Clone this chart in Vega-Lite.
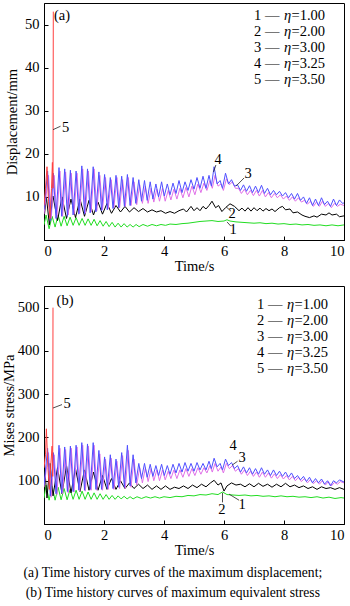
{
"$schema":"https://vega.github.io/schema/vega-lite/v6.json",
"background":"white",
"padding":{"left":0,"top":2,"right":5,"bottom":0},
"spacing":11,
"title":{"text":["(a) Time history curves of the maximum displacement;","(b) Time history curves of maximum equivalent stress"],"orient":"bottom","anchor":"middle","font":"Liberation Serif","fontSize":13.6,"fontWeight":"normal","lineHeight":20,"offset":8,"color":"#000"},
"config":{
 "view":{"stroke":"#000","strokeWidth":1},
 "axis":{"grid":false,"domainColor":"#000","tickColor":"#000","tickSize":-4,"labelFont":"Liberation Serif","labelFontSize":14.5,"labelColor":"#000","titleFont":"Liberation Serif","titleFontSize":14.5,"titleFontWeight":"normal","titleColor":"#000"},
 "line":{"strokeWidth":1}
},
"datasets":{
"a":[
{"s":"1","t":0,"v":3.5},{"s":"1","t":0.07,"v":5.8},{"s":"1","t":0.17,"v":2.6},{"s":"1","t":0.27,"v":5.5},{"s":"1","t":0.37,"v":3.0},{"s":"1","t":0.47,"v":5.8},{"s":"1","t":0.57,"v":3.2},{"s":"1","t":0.67,"v":5.5},{"s":"1","t":0.77,"v":3.3},{"s":"1","t":0.87,"v":5.3},{"s":"1","t":0.97,"v":3.4},{"s":"1","t":1.07,"v":5.2},{"s":"1","t":1.17,"v":3.4},{"s":"1","t":1.27,"v":5.0},{"s":"1","t":1.37,"v":3.4},{"s":"1","t":1.47,"v":4.9},{"s":"1","t":1.57,"v":3.4},{"s":"1","t":1.67,"v":4.8},{"s":"1","t":1.77,"v":3.3},{"s":"1","t":1.87,"v":4.5},{"s":"1","t":1.97,"v":3.2},{"s":"1","t":2.07,"v":4.3},{"s":"1","t":2.17,"v":3.1},{"s":"1","t":2.27,"v":4.1},{"s":"1","t":2.37,"v":3.0},{"s":"1","t":2.47,"v":3.9},{"s":"1","t":2.57,"v":3.0},{"s":"1","t":2.67,"v":3.8},{"s":"1","t":2.77,"v":3.0},{"s":"1","t":2.87,"v":3.6},{"s":"1","t":2.97,"v":3.0},{"s":"1","t":3.07,"v":3.6},{"s":"1","t":3.17,"v":3.1},{"s":"1","t":3.3,"v":3.6},{"s":"1","t":3.45,"v":3.2},{"s":"1","t":3.6,"v":3.6},{"s":"1","t":3.75,"v":3.3},{"s":"1","t":3.9,"v":3.6},{"s":"1","t":4.05,"v":3.4},{"s":"1","t":4.2,"v":3.7},{"s":"1","t":4.4,"v":3.6},{"s":"1","t":4.6,"v":3.8},{"s":"1","t":4.8,"v":3.9},{"s":"1","t":5.0,"v":4.1},{"s":"1","t":5.2,"v":4.3},{"s":"1","t":5.4,"v":4.4},{"s":"1","t":5.6,"v":4.5},{"s":"1","t":5.8,"v":4.3},{"s":"1","t":6.0,"v":4.4},{"s":"1","t":6.1,"v":4.7},{"s":"1","t":6.2,"v":4.4},{"s":"1","t":6.4,"v":4.2},{"s":"1","t":6.6,"v":4.1},{"s":"1","t":6.8,"v":4.0},{"s":"1","t":7.0,"v":3.9},{"s":"1","t":7.2,"v":4.0},{"s":"1","t":7.4,"v":3.8},{"s":"1","t":7.6,"v":3.9},{"s":"1","t":7.8,"v":3.7},{"s":"1","t":8.0,"v":3.8},{"s":"1","t":8.2,"v":3.6},{"s":"1","t":8.4,"v":3.7},{"s":"1","t":8.6,"v":3.5},{"s":"1","t":8.8,"v":3.6},{"s":"1","t":9.0,"v":3.4},{"s":"1","t":9.2,"v":3.5},{"s":"1","t":9.4,"v":3.3},{"s":"1","t":9.6,"v":3.5},{"s":"1","t":9.8,"v":3.3},{"s":"1","t":10.0,"v":3.5},
{"s":"2","t":0,"v":5},{"s":"2","t":0.08,"v":10.0},{"s":"2","t":0.18,"v":3.5},{"s":"2","t":0.3,"v":10.2},{"s":"2","t":0.45,"v":4.5},{"s":"2","t":0.6,"v":10.0},{"s":"2","t":0.75,"v":5.0},{"s":"2","t":0.9,"v":9.5},{"s":"2","t":1.05,"v":5.2},{"s":"2","t":1.2,"v":9.5},{"s":"2","t":1.35,"v":5.5},{"s":"2","t":1.5,"v":9.2},{"s":"2","t":1.65,"v":5.8},{"s":"2","t":1.8,"v":8.8},{"s":"2","t":1.95,"v":6.0},{"s":"2","t":2.1,"v":8.5},{"s":"2","t":2.25,"v":6.2},{"s":"2","t":2.4,"v":8.0},{"s":"2","t":2.55,"v":6.5},{"s":"2","t":2.7,"v":7.8},{"s":"2","t":2.85,"v":6.5},{"s":"2","t":3.0,"v":7.5},{"s":"2","t":3.15,"v":6.6},{"s":"2","t":3.3,"v":7.3},{"s":"2","t":3.45,"v":6.5},{"s":"2","t":3.6,"v":7.0},{"s":"2","t":3.75,"v":6.5},{"s":"2","t":3.9,"v":6.8},{"s":"2","t":4.05,"v":6.2},{"s":"2","t":4.2,"v":6.6},{"s":"2","t":4.35,"v":6.2},{"s":"2","t":4.5,"v":6.8},{"s":"2","t":4.65,"v":7.2},{"s":"2","t":4.75,"v":6.5},{"s":"2","t":4.9,"v":7.8},{"s":"2","t":5.0,"v":6.8},{"s":"2","t":5.1,"v":7.5},{"s":"2","t":5.2,"v":6.8},{"s":"2","t":5.3,"v":7.8},{"s":"2","t":5.4,"v":7.2},{"s":"2","t":5.5,"v":8.0},{"s":"2","t":5.6,"v":9.0},{"s":"2","t":5.72,"v":7.5},{"s":"2","t":5.82,"v":8.0},{"s":"2","t":5.93,"v":6.6},{"s":"2","t":6.05,"v":7.5},{"s":"2","t":6.2,"v":8.4},{"s":"2","t":6.35,"v":7.8},{"s":"2","t":6.5,"v":6.8},{"s":"2","t":6.6,"v":7.4},{"s":"2","t":6.7,"v":6.7},{"s":"2","t":6.8,"v":7.5},{"s":"2","t":6.9,"v":6.7},{"s":"2","t":7.0,"v":7.5},{"s":"2","t":7.1,"v":6.8},{"s":"2","t":7.2,"v":7.4},{"s":"2","t":7.3,"v":6.7},{"s":"2","t":7.4,"v":7.3},{"s":"2","t":7.5,"v":6.8},{"s":"2","t":7.6,"v":7.2},{"s":"2","t":7.7,"v":6.6},{"s":"2","t":7.85,"v":7.5},{"s":"2","t":7.95,"v":7.8},{"s":"2","t":8.05,"v":7.0},{"s":"2","t":8.2,"v":7.2},{"s":"2","t":8.3,"v":6.3},{"s":"2","t":8.45,"v":6.5},{"s":"2","t":8.6,"v":5.8},{"s":"2","t":8.7,"v":5.5},{"s":"2","t":8.85,"v":5.2},{"s":"2","t":9.0,"v":5.6},{"s":"2","t":9.1,"v":5.3},{"s":"2","t":9.25,"v":6.0},{"s":"2","t":9.4,"v":5.8},{"s":"2","t":9.5,"v":6.3},{"s":"2","t":9.6,"v":5.8},{"s":"2","t":9.75,"v":6.0},{"s":"2","t":9.85,"v":5.4},{"s":"2","t":10.0,"v":5.6},
{"s":"3","t":0,"v":6},{"s":"3","t":0.15,"v":15.0},{"s":"3","t":0.24,"v":5.0},{"s":"3","t":0.34,"v":15.0},{"s":"3","t":0.43,"v":5.2},{"s":"3","t":0.53,"v":16.0},{"s":"3","t":0.62,"v":5.5},{"s":"3","t":0.72,"v":15.8},{"s":"3","t":0.81,"v":5.8},{"s":"3","t":0.91,"v":15.5},{"s":"3","t":1.0,"v":6.0},{"s":"3","t":1.1,"v":15.5},{"s":"3","t":1.19,"v":6.2},{"s":"3","t":1.29,"v":16.5},{"s":"3","t":1.38,"v":6.2},{"s":"3","t":1.48,"v":16.0},{"s":"3","t":1.57,"v":6.5},{"s":"3","t":1.67,"v":16.5},{"s":"3","t":1.76,"v":6.8},{"s":"3","t":1.86,"v":15.0},{"s":"3","t":1.95,"v":7.0},{"s":"3","t":2.05,"v":14.5},{"s":"3","t":2.14,"v":7.2},{"s":"3","t":2.24,"v":14.0},{"s":"3","t":2.33,"v":7.5},{"s":"3","t":2.43,"v":14.5},{"s":"3","t":2.52,"v":7.5},{"s":"3","t":2.62,"v":14.0},{"s":"3","t":2.71,"v":7.8},{"s":"3","t":2.81,"v":14.5},{"s":"3","t":2.9,"v":8.0},{"s":"3","t":3.0,"v":13.5},{"s":"3","t":3.09,"v":8.2},{"s":"3","t":3.19,"v":12.8},{"s":"3","t":3.28,"v":8.5},{"s":"3","t":3.38,"v":12.5},{"s":"3","t":3.47,"v":8.5},{"s":"3","t":3.57,"v":12.0},{"s":"3","t":3.66,"v":8.8},{"s":"3","t":3.76,"v":11.8},{"s":"3","t":3.85,"v":9.0},{"s":"3","t":3.95,"v":12.0},{"s":"3","t":4.04,"v":9.0},{"s":"3","t":4.14,"v":11.5},{"s":"3","t":4.23,"v":9.3},{"s":"3","t":4.33,"v":11.8},{"s":"3","t":4.43,"v":9.5},{"s":"3","t":4.53,"v":12.0},{"s":"3","t":4.63,"v":9.8},{"s":"3","t":4.73,"v":12.2},{"s":"3","t":4.83,"v":10.0},{"s":"3","t":4.93,"v":12.5},{"s":"3","t":5.03,"v":10.5},{"s":"3","t":5.13,"v":13.0},{"s":"3","t":5.23,"v":11.0},{"s":"3","t":5.33,"v":13.2},{"s":"3","t":5.43,"v":11.5},{"s":"3","t":5.53,"v":13.8},{"s":"3","t":5.61,"v":12.0},{"s":"3","t":5.7,"v":15.0},{"s":"3","t":5.8,"v":12.5},{"s":"3","t":5.9,"v":13.0},{"s":"3","t":5.98,"v":11.5},{"s":"3","t":6.08,"v":14.2},{"s":"3","t":6.18,"v":12.8},{"s":"3","t":6.28,"v":13.5},{"s":"3","t":6.38,"v":12.0},{"s":"3","t":6.48,"v":12.0},{"s":"3","t":6.58,"v":10.8},{"s":"3","t":6.68,"v":11.8},{"s":"3","t":6.78,"v":10.5},{"s":"3","t":6.88,"v":11.5},{"s":"3","t":6.98,"v":10.3},{"s":"3","t":7.08,"v":11.5},{"s":"3","t":7.18,"v":10.2},{"s":"3","t":7.28,"v":11.5},{"s":"3","t":7.38,"v":10.0},{"s":"3","t":7.48,"v":11.0},{"s":"3","t":7.58,"v":9.8},{"s":"3","t":7.68,"v":10.8},{"s":"3","t":7.78,"v":9.8},{"s":"3","t":7.88,"v":10.5},{"s":"3","t":7.98,"v":9.5},{"s":"3","t":8.08,"v":10.2},{"s":"3","t":8.18,"v":9.2},{"s":"3","t":8.28,"v":10.0},{"s":"3","t":8.38,"v":9.0},{"s":"3","t":8.48,"v":9.8},{"s":"3","t":8.58,"v":8.8},{"s":"3","t":8.68,"v":9.2},{"s":"3","t":8.78,"v":8.3},{"s":"3","t":8.88,"v":9.0},{"s":"3","t":8.98,"v":7.8},{"s":"3","t":9.08,"v":8.8},{"s":"3","t":9.18,"v":7.8},{"s":"3","t":9.28,"v":9.0},{"s":"3","t":9.38,"v":7.8},{"s":"3","t":9.48,"v":8.5},{"s":"3","t":9.58,"v":7.5},{"s":"3","t":9.68,"v":8.5},{"s":"3","t":9.78,"v":7.8},{"s":"3","t":9.88,"v":8.3},{"s":"3","t":10.0,"v":8.0},
{"s":"4","t":0,"v":7},{"s":"4","t":0.12,"v":16.0},{"s":"4","t":0.21,"v":4.5},{"s":"4","t":0.31,"v":15.5},{"s":"4","t":0.4,"v":5.0},{"s":"4","t":0.5,"v":16.8},{"s":"4","t":0.59,"v":5.5},{"s":"4","t":0.69,"v":16.5},{"s":"4","t":0.78,"v":5.5},{"s":"4","t":0.88,"v":16.2},{"s":"4","t":0.97,"v":5.8},{"s":"4","t":1.07,"v":16.0},{"s":"4","t":1.16,"v":6.0},{"s":"4","t":1.26,"v":17.2},{"s":"4","t":1.35,"v":6.0},{"s":"4","t":1.45,"v":16.5},{"s":"4","t":1.54,"v":6.3},{"s":"4","t":1.64,"v":17.0},{"s":"4","t":1.73,"v":6.5},{"s":"4","t":1.83,"v":15.8},{"s":"4","t":1.92,"v":6.8},{"s":"4","t":2.02,"v":15.2},{"s":"4","t":2.11,"v":7.0},{"s":"4","t":2.21,"v":14.5},{"s":"4","t":2.3,"v":7.3},{"s":"4","t":2.4,"v":15.0},{"s":"4","t":2.49,"v":7.5},{"s":"4","t":2.59,"v":14.8},{"s":"4","t":2.68,"v":7.8},{"s":"4","t":2.78,"v":15.2},{"s":"4","t":2.87,"v":8.0},{"s":"4","t":2.97,"v":14.5},{"s":"4","t":3.06,"v":8.5},{"s":"4","t":3.16,"v":14.0},{"s":"4","t":3.25,"v":9.0},{"s":"4","t":3.35,"v":13.8},{"s":"4","t":3.44,"v":9.2},{"s":"4","t":3.54,"v":13.5},{"s":"4","t":3.63,"v":9.5},{"s":"4","t":3.73,"v":13.0},{"s":"4","t":3.82,"v":10.0},{"s":"4","t":3.92,"v":13.5},{"s":"4","t":4.01,"v":10.2},{"s":"4","t":4.11,"v":13.0},{"s":"4","t":4.2,"v":10.5},{"s":"4","t":4.3,"v":13.2},{"s":"4","t":4.4,"v":10.8},{"s":"4","t":4.5,"v":13.8},{"s":"4","t":4.6,"v":11.0},{"s":"4","t":4.7,"v":13.5},{"s":"4","t":4.8,"v":11.5},{"s":"4","t":4.9,"v":14.0},{"s":"4","t":5.0,"v":11.8},{"s":"4","t":5.1,"v":14.5},{"s":"4","t":5.2,"v":12.0},{"s":"4","t":5.3,"v":14.8},{"s":"4","t":5.4,"v":12.0},{"s":"4","t":5.5,"v":15.0},{"s":"4","t":5.58,"v":12.5},{"s":"4","t":5.67,"v":17.0},{"s":"4","t":5.77,"v":13.0},{"s":"4","t":5.87,"v":13.8},{"s":"4","t":5.95,"v":12.0},{"s":"4","t":6.05,"v":15.5},{"s":"4","t":6.15,"v":13.0},{"s":"4","t":6.25,"v":14.0},{"s":"4","t":6.35,"v":12.5},{"s":"4","t":6.45,"v":12.8},{"s":"4","t":6.55,"v":11.5},{"s":"4","t":6.65,"v":12.8},{"s":"4","t":6.75,"v":11.3},{"s":"4","t":6.85,"v":12.6},{"s":"4","t":6.95,"v":11.0},{"s":"4","t":7.05,"v":12.5},{"s":"4","t":7.15,"v":11.0},{"s":"4","t":7.25,"v":12.7},{"s":"4","t":7.35,"v":10.8},{"s":"4","t":7.45,"v":12.0},{"s":"4","t":7.55,"v":10.5},{"s":"4","t":7.65,"v":11.5},{"s":"4","t":7.75,"v":10.5},{"s":"4","t":7.85,"v":11.3},{"s":"4","t":7.95,"v":10.2},{"s":"4","t":8.05,"v":11.0},{"s":"4","t":8.15,"v":9.8},{"s":"4","t":8.25,"v":10.8},{"s":"4","t":8.35,"v":9.5},{"s":"4","t":8.45,"v":10.8},{"s":"4","t":8.55,"v":9.2},{"s":"4","t":8.65,"v":10.0},{"s":"4","t":8.75,"v":8.5},{"s":"4","t":8.85,"v":9.8},{"s":"4","t":8.95,"v":8.0},{"s":"4","t":9.05,"v":9.5},{"s":"4","t":9.15,"v":8.0},{"s":"4","t":9.25,"v":9.8},{"s":"4","t":9.35,"v":8.2},{"s":"4","t":9.45,"v":9.0},{"s":"4","t":9.55,"v":7.8},{"s":"4","t":9.65,"v":9.5},{"s":"4","t":9.75,"v":8.0},{"s":"4","t":9.85,"v":9.3},{"s":"4","t":9.95,"v":8.5},{"s":"4","t":10.0,"v":8.6},
{"s":"5","t":0,"v":8},{"s":"5","t":0.05,"v":12},{"s":"5","t":0.1,"v":17},{"s":"5","t":0.15,"v":9},{"s":"5","t":0.2,"v":5},{"s":"5","t":0.25,"v":12},{"s":"5","t":0.28,"v":18},{"s":"5","t":0.3,"v":12},{"s":"5","t":0.31,"v":53}
],
"b":[
{"s":"1","t":0,"v":60},{"s":"1","t":0.07,"v":90},{"s":"1","t":0.17,"v":55},{"s":"1","t":0.27,"v":88},{"s":"1","t":0.37,"v":55},{"s":"1","t":0.47,"v":85},{"s":"1","t":0.57,"v":56},{"s":"1","t":0.67,"v":82},{"s":"1","t":0.77,"v":56},{"s":"1","t":0.87,"v":80},{"s":"1","t":0.97,"v":57},{"s":"1","t":1.07,"v":78},{"s":"1","t":1.17,"v":57},{"s":"1","t":1.27,"v":76},{"s":"1","t":1.37,"v":57},{"s":"1","t":1.47,"v":74},{"s":"1","t":1.57,"v":57},{"s":"1","t":1.67,"v":72},{"s":"1","t":1.77,"v":57},{"s":"1","t":1.87,"v":70},{"s":"1","t":1.97,"v":57},{"s":"1","t":2.07,"v":68},{"s":"1","t":2.17,"v":57},{"s":"1","t":2.27,"v":66},{"s":"1","t":2.37,"v":57},{"s":"1","t":2.47,"v":65},{"s":"1","t":2.57,"v":58},{"s":"1","t":2.67,"v":64},{"s":"1","t":2.77,"v":58},{"s":"1","t":2.87,"v":63},{"s":"1","t":2.97,"v":58},{"s":"1","t":3.1,"v":63},{"s":"1","t":3.25,"v":59},{"s":"1","t":3.4,"v":63},{"s":"1","t":3.55,"v":60},{"s":"1","t":3.7,"v":63},{"s":"1","t":3.85,"v":60},{"s":"1","t":4.0,"v":63},{"s":"1","t":4.2,"v":61},{"s":"1","t":4.4,"v":64},{"s":"1","t":4.6,"v":63},{"s":"1","t":4.8,"v":66},{"s":"1","t":5.0,"v":65},{"s":"1","t":5.2,"v":68},{"s":"1","t":5.4,"v":67},{"s":"1","t":5.6,"v":70},{"s":"1","t":5.8,"v":68},{"s":"1","t":5.95,"v":74},{"s":"1","t":6.1,"v":68},{"s":"1","t":6.3,"v":67},{"s":"1","t":6.5,"v":66},{"s":"1","t":6.7,"v":67},{"s":"1","t":6.9,"v":65},{"s":"1","t":7.1,"v":66},{"s":"1","t":7.3,"v":64},{"s":"1","t":7.5,"v":65},{"s":"1","t":7.7,"v":63},{"s":"1","t":7.9,"v":65},{"s":"1","t":8.1,"v":63},{"s":"1","t":8.3,"v":64},{"s":"1","t":8.5,"v":62},{"s":"1","t":8.7,"v":63},{"s":"1","t":8.9,"v":61},{"s":"1","t":9.1,"v":63},{"s":"1","t":9.3,"v":60},{"s":"1","t":9.5,"v":62},{"s":"1","t":9.7,"v":59},{"s":"1","t":9.9,"v":61},{"s":"1","t":10.0,"v":60},
{"s":"2","t":0,"v":150},{"s":"2","t":0.1,"v":60},{"s":"2","t":0.2,"v":140},{"s":"2","t":0.3,"v":65},{"s":"2","t":0.45,"v":130},{"s":"2","t":0.6,"v":70},{"s":"2","t":0.75,"v":135},{"s":"2","t":0.9,"v":72},{"s":"2","t":1.05,"v":128},{"s":"2","t":1.2,"v":75},{"s":"2","t":1.35,"v":125},{"s":"2","t":1.5,"v":78},{"s":"2","t":1.65,"v":120},{"s":"2","t":1.8,"v":78},{"s":"2","t":1.95,"v":112},{"s":"2","t":2.1,"v":80},{"s":"2","t":2.25,"v":105},{"s":"2","t":2.4,"v":80},{"s":"2","t":2.55,"v":100},{"s":"2","t":2.7,"v":82},{"s":"2","t":2.85,"v":95},{"s":"2","t":3.0,"v":82},{"s":"2","t":3.15,"v":92},{"s":"2","t":3.3,"v":82},{"s":"2","t":3.45,"v":90},{"s":"2","t":3.6,"v":80},{"s":"2","t":3.75,"v":88},{"s":"2","t":3.9,"v":80},{"s":"2","t":4.05,"v":88},{"s":"2","t":4.2,"v":80},{"s":"2","t":4.35,"v":85},{"s":"2","t":4.5,"v":82},{"s":"2","t":4.65,"v":88},{"s":"2","t":4.8,"v":82},{"s":"2","t":4.95,"v":90},{"s":"2","t":5.1,"v":84},{"s":"2","t":5.25,"v":92},{"s":"2","t":5.4,"v":86},{"s":"2","t":5.55,"v":95},{"s":"2","t":5.67,"v":101},{"s":"2","t":5.8,"v":90},{"s":"2","t":5.9,"v":95},{"s":"2","t":6.0,"v":76},{"s":"2","t":6.1,"v":88},{"s":"2","t":6.25,"v":95},{"s":"2","t":6.4,"v":90},{"s":"2","t":6.55,"v":92},{"s":"2","t":6.7,"v":86},{"s":"2","t":6.85,"v":93},{"s":"2","t":7.0,"v":86},{"s":"2","t":7.15,"v":94},{"s":"2","t":7.3,"v":87},{"s":"2","t":7.45,"v":92},{"s":"2","t":7.6,"v":85},{"s":"2","t":7.75,"v":92},{"s":"2","t":7.9,"v":86},{"s":"2","t":8.05,"v":94},{"s":"2","t":8.2,"v":86},{"s":"2","t":8.35,"v":90},{"s":"2","t":8.5,"v":84},{"s":"2","t":8.65,"v":88},{"s":"2","t":8.8,"v":82},{"s":"2","t":8.95,"v":86},{"s":"2","t":9.1,"v":80},{"s":"2","t":9.25,"v":86},{"s":"2","t":9.4,"v":82},{"s":"2","t":9.55,"v":84},{"s":"2","t":9.7,"v":80},{"s":"2","t":9.85,"v":84},{"s":"2","t":10.0,"v":80},
{"s":"3","t":0,"v":85},{"s":"3","t":0.15,"v":165},{"s":"3","t":0.24,"v":62},{"s":"3","t":0.34,"v":160},{"s":"3","t":0.43,"v":68},{"s":"3","t":0.53,"v":175},{"s":"3","t":0.62,"v":70},{"s":"3","t":0.72,"v":172},{"s":"3","t":0.81,"v":72},{"s":"3","t":0.91,"v":175},{"s":"3","t":1.0,"v":74},{"s":"3","t":1.1,"v":178},{"s":"3","t":1.19,"v":76},{"s":"3","t":1.29,"v":182},{"s":"3","t":1.38,"v":76},{"s":"3","t":1.48,"v":180},{"s":"3","t":1.57,"v":78},{"s":"3","t":1.67,"v":182},{"s":"3","t":1.76,"v":78},{"s":"3","t":1.86,"v":162},{"s":"3","t":1.95,"v":78},{"s":"3","t":2.05,"v":150},{"s":"3","t":2.14,"v":80},{"s":"3","t":2.24,"v":152},{"s":"3","t":2.33,"v":80},{"s":"3","t":2.43,"v":145},{"s":"3","t":2.52,"v":82},{"s":"3","t":2.62,"v":158},{"s":"3","t":2.71,"v":82},{"s":"3","t":2.81,"v":170},{"s":"3","t":2.9,"v":85},{"s":"3","t":3.0,"v":150},{"s":"3","t":3.09,"v":90},{"s":"3","t":3.19,"v":130},{"s":"3","t":3.28,"v":95},{"s":"3","t":3.38,"v":130},{"s":"3","t":3.47,"v":98},{"s":"3","t":3.57,"v":128},{"s":"3","t":3.66,"v":100},{"s":"3","t":3.76,"v":125},{"s":"3","t":3.85,"v":100},{"s":"3","t":3.95,"v":125},{"s":"3","t":4.04,"v":102},{"s":"3","t":4.14,"v":122},{"s":"3","t":4.23,"v":105},{"s":"3","t":4.33,"v":125},{"s":"3","t":4.43,"v":105},{"s":"3","t":4.53,"v":125},{"s":"3","t":4.63,"v":108},{"s":"3","t":4.73,"v":128},{"s":"3","t":4.83,"v":110},{"s":"3","t":4.93,"v":128},{"s":"3","t":5.03,"v":112},{"s":"3","t":5.13,"v":130},{"s":"3","t":5.23,"v":115},{"s":"3","t":5.33,"v":130},{"s":"3","t":5.43,"v":118},{"s":"3","t":5.53,"v":135},{"s":"3","t":5.61,"v":120},{"s":"3","t":5.7,"v":140},{"s":"3","t":5.8,"v":122},{"s":"3","t":5.9,"v":132},{"s":"3","t":5.98,"v":118},{"s":"3","t":6.08,"v":140},{"s":"3","t":6.18,"v":128},{"s":"3","t":6.28,"v":135},{"s":"3","t":6.38,"v":122},{"s":"3","t":6.48,"v":128},{"s":"3","t":6.58,"v":115},{"s":"3","t":6.68,"v":125},{"s":"3","t":6.78,"v":112},{"s":"3","t":6.88,"v":122},{"s":"3","t":6.98,"v":110},{"s":"3","t":7.08,"v":120},{"s":"3","t":7.18,"v":108},{"s":"3","t":7.28,"v":120},{"s":"3","t":7.38,"v":108},{"s":"3","t":7.48,"v":118},{"s":"3","t":7.58,"v":106},{"s":"3","t":7.68,"v":116},{"s":"3","t":7.78,"v":105},{"s":"3","t":7.88,"v":114},{"s":"3","t":7.98,"v":104},{"s":"3","t":8.08,"v":112},{"s":"3","t":8.18,"v":102},{"s":"3","t":8.28,"v":110},{"s":"3","t":8.38,"v":100},{"s":"3","t":8.48,"v":108},{"s":"3","t":8.58,"v":98},{"s":"3","t":8.68,"v":105},{"s":"3","t":8.78,"v":95},{"s":"3","t":8.88,"v":103},{"s":"3","t":8.98,"v":93},{"s":"3","t":9.08,"v":100},{"s":"3","t":9.18,"v":92},{"s":"3","t":9.28,"v":100},{"s":"3","t":9.38,"v":90},{"s":"3","t":9.48,"v":98},{"s":"3","t":9.58,"v":88},{"s":"3","t":9.68,"v":96},{"s":"3","t":9.78,"v":92},{"s":"3","t":9.88,"v":98},{"s":"3","t":10.0,"v":95},
{"s":"4","t":0,"v":90},{"s":"4","t":0.12,"v":175},{"s":"4","t":0.21,"v":65},{"s":"4","t":0.31,"v":165},{"s":"4","t":0.4,"v":70},{"s":"4","t":0.5,"v":182},{"s":"4","t":0.59,"v":72},{"s":"4","t":0.69,"v":178},{"s":"4","t":0.78,"v":75},{"s":"4","t":0.88,"v":180},{"s":"4","t":0.97,"v":75},{"s":"4","t":1.07,"v":182},{"s":"4","t":1.16,"v":78},{"s":"4","t":1.26,"v":188},{"s":"4","t":1.35,"v":78},{"s":"4","t":1.45,"v":185},{"s":"4","t":1.54,"v":80},{"s":"4","t":1.64,"v":188},{"s":"4","t":1.73,"v":80},{"s":"4","t":1.83,"v":170},{"s":"4","t":1.92,"v":80},{"s":"4","t":2.02,"v":155},{"s":"4","t":2.11,"v":82},{"s":"4","t":2.21,"v":160},{"s":"4","t":2.3,"v":82},{"s":"4","t":2.4,"v":150},{"s":"4","t":2.49,"v":85},{"s":"4","t":2.59,"v":165},{"s":"4","t":2.68,"v":85},{"s":"4","t":2.78,"v":182},{"s":"4","t":2.87,"v":88},{"s":"4","t":2.97,"v":160},{"s":"4","t":3.06,"v":95},{"s":"4","t":3.16,"v":140},{"s":"4","t":3.25,"v":105},{"s":"4","t":3.35,"v":140},{"s":"4","t":3.44,"v":108},{"s":"4","t":3.54,"v":138},{"s":"4","t":3.63,"v":110},{"s":"4","t":3.73,"v":135},{"s":"4","t":3.82,"v":112},{"s":"4","t":3.92,"v":138},{"s":"4","t":4.01,"v":112},{"s":"4","t":4.11,"v":135},{"s":"4","t":4.2,"v":115},{"s":"4","t":4.3,"v":138},{"s":"4","t":4.4,"v":118},{"s":"4","t":4.5,"v":140},{"s":"4","t":4.6,"v":120},{"s":"4","t":4.7,"v":142},{"s":"4","t":4.8,"v":122},{"s":"4","t":4.9,"v":140},{"s":"4","t":5.0,"v":122},{"s":"4","t":5.1,"v":142},{"s":"4","t":5.2,"v":125},{"s":"4","t":5.3,"v":140},{"s":"4","t":5.4,"v":125},{"s":"4","t":5.5,"v":145},{"s":"4","t":5.58,"v":128},{"s":"4","t":5.67,"v":152},{"s":"4","t":5.77,"v":132},{"s":"4","t":5.87,"v":140},{"s":"4","t":5.95,"v":125},{"s":"4","t":6.05,"v":150},{"s":"4","t":6.15,"v":135},{"s":"4","t":6.25,"v":142},{"s":"4","t":6.35,"v":128},{"s":"4","t":6.45,"v":135},{"s":"4","t":6.55,"v":120},{"s":"4","t":6.65,"v":132},{"s":"4","t":6.75,"v":118},{"s":"4","t":6.85,"v":130},{"s":"4","t":6.95,"v":115},{"s":"4","t":7.05,"v":128},{"s":"4","t":7.15,"v":115},{"s":"4","t":7.25,"v":130},{"s":"4","t":7.35,"v":115},{"s":"4","t":7.45,"v":125},{"s":"4","t":7.55,"v":112},{"s":"4","t":7.65,"v":125},{"s":"4","t":7.75,"v":112},{"s":"4","t":7.85,"v":122},{"s":"4","t":7.95,"v":110},{"s":"4","t":8.05,"v":120},{"s":"4","t":8.15,"v":108},{"s":"4","t":8.25,"v":118},{"s":"4","t":8.35,"v":105},{"s":"4","t":8.45,"v":112},{"s":"4","t":8.55,"v":102},{"s":"4","t":8.65,"v":110},{"s":"4","t":8.75,"v":98},{"s":"4","t":8.85,"v":108},{"s":"4","t":8.95,"v":95},{"s":"4","t":9.05,"v":105},{"s":"4","t":9.15,"v":95},{"s":"4","t":9.25,"v":104},{"s":"4","t":9.35,"v":92},{"s":"4","t":9.45,"v":100},{"s":"4","t":9.55,"v":88},{"s":"4","t":9.65,"v":100},{"s":"4","t":9.75,"v":95},{"s":"4","t":9.85,"v":102},{"s":"4","t":10.0,"v":97},
{"s":"5","t":0,"v":130},{"s":"5","t":0.05,"v":160},{"s":"5","t":0.08,"v":220},{"s":"5","t":0.13,"v":130},{"s":"5","t":0.18,"v":80},{"s":"5","t":0.23,"v":140},{"s":"5","t":0.27,"v":180},{"s":"5","t":0.29,"v":110},{"s":"5","t":0.3,"v":500}
],
"leg":[{"a":"1 —","e":"=1.00","va":52.0,"vb":506},{"a":"2 —","e":"=2.00","va":48.3,"vb":469},{"a":"3 —","e":"=3.00","va":44.5,"vb":432},{"a":"4 —","e":"=3.25","va":40.8,"vb":395},{"a":"5 —","e":"=3.50","va":37.1,"vb":358}]
},
"vconcat":[
{
 "width":300,"height":237,
 "layer":[
  {"data":{"name":"a"},"mark":{"type":"line","strokeWidth":1,"clip":true},
   "encoding":{
    "x":{"field":"t","type":"quantitative","scale":{"domain":[0,10],"nice":false},"axis":{"values":[0,2,4,6,8,10],"labelPadding":8,"titlePadding":2},"title":"Time/s"},
    "y":{"field":"v","type":"quantitative","scale":{"domain":[0,55],"nice":false},"axis":{"values":[10,20,30,40,50],"labelPadding":9,"titlePadding":5},"title":"Displacement/mm"},
    "color":{"field":"s","type":"nominal","scale":{"domain":["1","2","3","4","5"],"range":["#22dd22","#000000","#e070e8","#5050ff","#ff4040"]},"legend":null}}},
  {"data":{"values":[{"t":0.3,"v":25.6,"t2":0.55,"v2":26.4},{"t":5.73,"v":17.4,"t2":5.65,"v2":15.8},{"t":6.4,"v":12.5,"t2":6.67,"v2":14.4},{"t":6.07,"v":7.7,"t2":6.23,"v2":6.7},{"t":6.1,"v":4.2,"t2":6.23,"v2":3.2}]},
   "mark":{"type":"rule","color":"#222","strokeWidth":0.8},
   "encoding":{"x":{"field":"t","type":"quantitative"},"y":{"field":"v","type":"quantitative"},"x2":{"field":"t2"},"y2":{"field":"v2"}}},
  {"data":{"values":[{"k":"5","t":0.72,"v":26.0},{"k":"4","t":5.8,"v":18.6},{"k":"3","t":6.8,"v":15.3},{"k":"2","t":6.27,"v":6.0},{"k":"1","t":6.3,"v":2.3},{"k":"(a)","t":0.6,"v":52}]},
   "mark":{"type":"text","font":"Liberation Serif","fontSize":14.5,"align":"center","baseline":"middle","color":"#000"},
   "encoding":{"x":{"field":"t","type":"quantitative"},"y":{"field":"v","type":"quantitative"},"text":{"field":"k"}}},
  {"data":{"name":"leg"},
   "mark":{"type":"text","font":"Liberation Serif","fontSize":14.5,"align":"left","baseline":"middle","color":"#000"},
   "encoding":{"x":{"datum":7.0,"type":"quantitative"},"y":{"field":"va","type":"quantitative"},"text":{"field":"a"}}},
  {"data":{"name":"leg"},
   "mark":{"type":"text","font":"Liberation Serif","fontSize":14.5,"fontStyle":"italic","align":"left","baseline":"middle","color":"#000"},
   "encoding":{"x":{"datum":8.0,"type":"quantitative"},"y":{"field":"va","type":"quantitative"},"text":{"value":"η"}}},
  {"data":{"name":"leg"},
   "mark":{"type":"text","font":"Liberation Serif","fontSize":14.5,"align":"left","baseline":"middle","color":"#000"},
   "encoding":{"x":{"datum":8.25,"type":"quantitative"},"y":{"field":"va","type":"quantitative"},"text":{"field":"e"}}}
 ]
},
{
 "width":300,"height":238,
 "layer":[
  {"data":{"name":"b"},"mark":{"type":"line","strokeWidth":1,"clip":true},
   "encoding":{
    "x":{"field":"t","type":"quantitative","scale":{"domain":[0,10],"nice":false},"axis":{"values":[0,2,4,6,8,10],"labelPadding":8,"titlePadding":2},"title":"Time/s"},
    "y":{"field":"v","type":"quantitative","scale":{"domain":[0,550],"nice":false},"axis":{"values":[100,200,300,400,500],"labelPadding":9,"titlePadding":1},"title":"Mises stress/MPa"},
    "color":{"field":"s","type":"nominal","scale":{"domain":["1","2","3","4","5"],"range":["#22dd22","#000000","#e070e8","#5050ff","#ff4040"]},"legend":null}}},
  {"data":{"values":[{"t":0.3,"v":268,"t2":0.6,"v2":276},{"t":6.27,"v":136,"t2":6.45,"v2":145},{"t":5.95,"v":72,"t2":5.95,"v2":50},{"t":6.17,"v":69,"t2":6.5,"v2":55}]},
   "mark":{"type":"rule","color":"#222","strokeWidth":0.8},
   "encoding":{"x":{"field":"t","type":"quantitative"},"y":{"field":"v","type":"quantitative"},"x2":{"field":"t2"},"y2":{"field":"v2"}}},
  {"data":{"values":[{"k":"5","t":0.77,"v":277},{"k":"4","t":6.3,"v":180},{"k":"3","t":6.6,"v":153},{"k":"2","t":5.93,"v":32},{"k":"1","t":6.6,"v":44},{"k":"(b)","t":0.7,"v":515}]},
   "mark":{"type":"text","font":"Liberation Serif","fontSize":14.5,"align":"center","baseline":"middle","color":"#000"},
   "encoding":{"x":{"field":"t","type":"quantitative"},"y":{"field":"v","type":"quantitative"},"text":{"field":"k"}}},
  {"data":{"name":"leg"},
   "mark":{"type":"text","font":"Liberation Serif","fontSize":14.5,"align":"left","baseline":"middle","color":"#000"},
   "encoding":{"x":{"datum":7.1,"type":"quantitative"},"y":{"field":"vb","type":"quantitative"},"text":{"field":"a"}}},
  {"data":{"name":"leg"},
   "mark":{"type":"text","font":"Liberation Serif","fontSize":14.5,"fontStyle":"italic","align":"left","baseline":"middle","color":"#000"},
   "encoding":{"x":{"datum":8.1,"type":"quantitative"},"y":{"field":"vb","type":"quantitative"},"text":{"value":"η"}}},
  {"data":{"name":"leg"},
   "mark":{"type":"text","font":"Liberation Serif","fontSize":14.5,"align":"left","baseline":"middle","color":"#000"},
   "encoding":{"x":{"datum":8.35,"type":"quantitative"},"y":{"field":"vb","type":"quantitative"},"text":{"field":"e"}}}
 ]
}
]
}
